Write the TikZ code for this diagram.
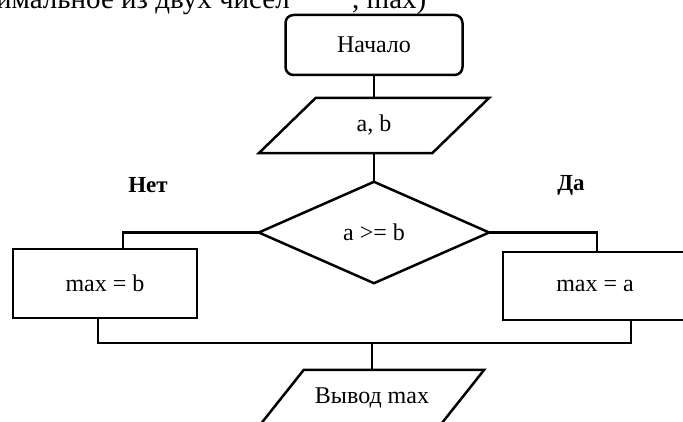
\documentclass[tikz,border=0pt]{standalone}
\usepackage{fontspec}
\setmainfont{Liberation Serif}
\usetikzlibrary{calc}
\tikzset{
  line/.style={line width=2.5pt, line join=miter},
  box/.style={line, draw, rectangle, inner sep=0pt, font=\fontsize{24}{28}\selectfont},
  para/.style={rectangle, inner sep=0pt, font=\fontsize{24}{28}\selectfont},
  lbl/.style={font=\fontsize{23}{27}\selectfont\bfseries, inner sep=0pt},
  toptext/.style={font=\fontsize{29}{34}\selectfont, inner sep=0pt}
}
\begin{document}
\begin{tikzpicture}[x=1pt,y=-1pt]
\useasboundingbox (0,0) rectangle (683,422);
\clip (0,0) rectangle (683,422);
\fill[white] (0,0) rectangle (683,422);

% cut-off heading
\node[toptext, anchor=base east] (hdA) at (290,9) {имальное из двух чисел};
\node[toptext, anchor=base west] (hdB) at (352,9) {, max)};

% start
\node[box, rounded corners=8pt, minimum width=177pt, minimum height=60pt] (start) at (374,45) {Начало};

% input parallelogram
\node[para, minimum width=173pt, minimum height=55pt] (ab) at (374,125.5) {a, b};
\draw[line] ($(ab.north west)+(28.5,0)$) -- ($(ab.north east)+(28.5,0)$)
  -- ($(ab.south east)+(-28.5,0)$) -- ($(ab.south west)+(-28.5,0)$) -- cycle;

% decision
\node[para, minimum width=230pt, minimum height=101pt] (dec) at (374,232.5) {a >= b};
\draw[line] (dec.north) -- (dec.east) -- (dec.south) -- (dec.west) -- cycle;

% branches
\node[box, minimum width=184pt, minimum height=69pt] (lbox) at (105,283.5) {max = b};
\node[box, minimum width=184pt, minimum height=68pt] (rbox) at (595,286) {max = a};

\node[lbl] (no) at (148,185) {Нет};
\node[lbl] (yes) at (571,185) {Да};

% output parallelogram
\node[para, minimum width=180pt, minimum height=55pt] (out) at (372,397.5) {Вывод max};
\draw[line] ($(out.north west)+(22,0)$) -- ($(out.north east)+(22,0)$)
  -- ($(out.south east)+(-22,0)$) -- ($(out.south west)+(-22,0)$) -- cycle;

% connectors
\draw[line] (start.south) -- (ab.north);
\draw[line] (ab.south) -- (dec.north);
\draw[line] (dec.west) -| ($(lbox.north)+(18,0)$);
\draw[line] (dec.east) -| ($(rbox.north)+(2,0)$);
\coordinate (lb) at ($(lbox.south)+(-7,0)$);
\coordinate (rb) at ($(rbox.south)+(36,0)$);
\coordinate (join) at (372,343);
\draw[line] (lb) |- (join) -| (rb);
\draw[line] (join) -- (out.north);
\end{tikzpicture}
\end{document}
